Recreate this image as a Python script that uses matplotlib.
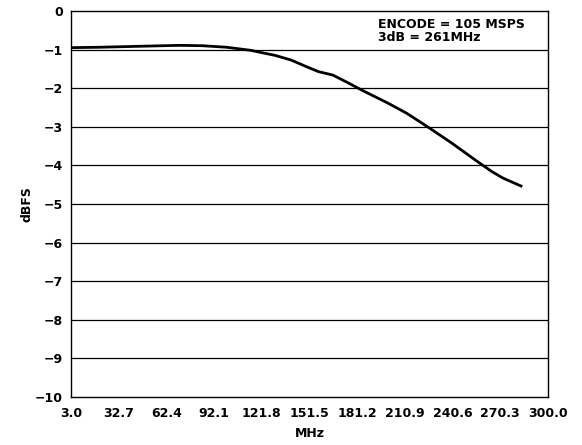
import matplotlib
matplotlib.use("Agg")
import matplotlib.pyplot as plt

freq_mhz = [3, 20, 40, 60, 71, 85, 100, 115, 130, 140, 150, 157, 166, 175, 185,
            200, 212, 225, 240, 255, 265, 272, 284]
dbfs = [-0.95, -0.94, -0.92, -0.90, -0.89, -0.90, -0.94, -1.02, -1.15, -1.27, -1.45,
        -1.57, -1.66, -1.85, -2.07, -2.38, -2.65, -3.0, -3.42, -3.87, -4.16, -4.33, -4.55]
x_ticks = [3.0, 32.7, 62.4, 92.1, 121.8, 151.5, 181.2, 210.9, 240.6, 270.3, 300.0]
y_ticks = [0, -1, -2, -3, -4, -5, -6, -7, -8, -9, -10]

plt.rcParams['font.family'] = ['DejaVu Sans']
plt.rcParams['font.weight'] = 'bold'
FS = 9

fig = plt.figure(figsize=(5.82, 4.45), dpi=100)
ax = fig.add_axes([0.122, 0.108, 0.8196, 0.8673])
ax.plot(freq_mhz, dbfs, color='black', lw=2.0, solid_capstyle='butt')
ax.set_xlim(3, 300)
ax.set_ylim(-10, 0)
ax.set_xticks(x_ticks)
ax.set_xticklabels([f"{v:.1f}" for v in x_ticks], fontsize=FS, fontweight='bold')
ax.set_yticks(y_ticks)
ax.set_yticklabels([str(v).replace('-', '\u2212') for v in y_ticks], fontsize=FS, fontweight='bold')
ax.tick_params(length=0)
ax.tick_params(axis='y', pad=6)
ax.tick_params(axis='x', pad=7)
for v in y_ticks[1:-1]:
    ax.axhline(v, color='black', lw=0.9, zorder=1)
for s in ax.spines.values():
    s.set_linewidth(1.0)
ax.set_xlabel('MHz', fontsize=FS, fontweight='bold', labelpad=5)
ax.set_ylabel('dBFS', fontsize=FS, fontweight='bold', labelpad=1)
ax.text(0.643, 0.982, 'ENCODE = 105 MSPS\n3dB = 261MHz', transform=ax.transAxes,
        ha='left', va='top', fontsize=FS, fontweight='bold', linespacing=1.05)
fig.savefig('out.png', dpi=100)
